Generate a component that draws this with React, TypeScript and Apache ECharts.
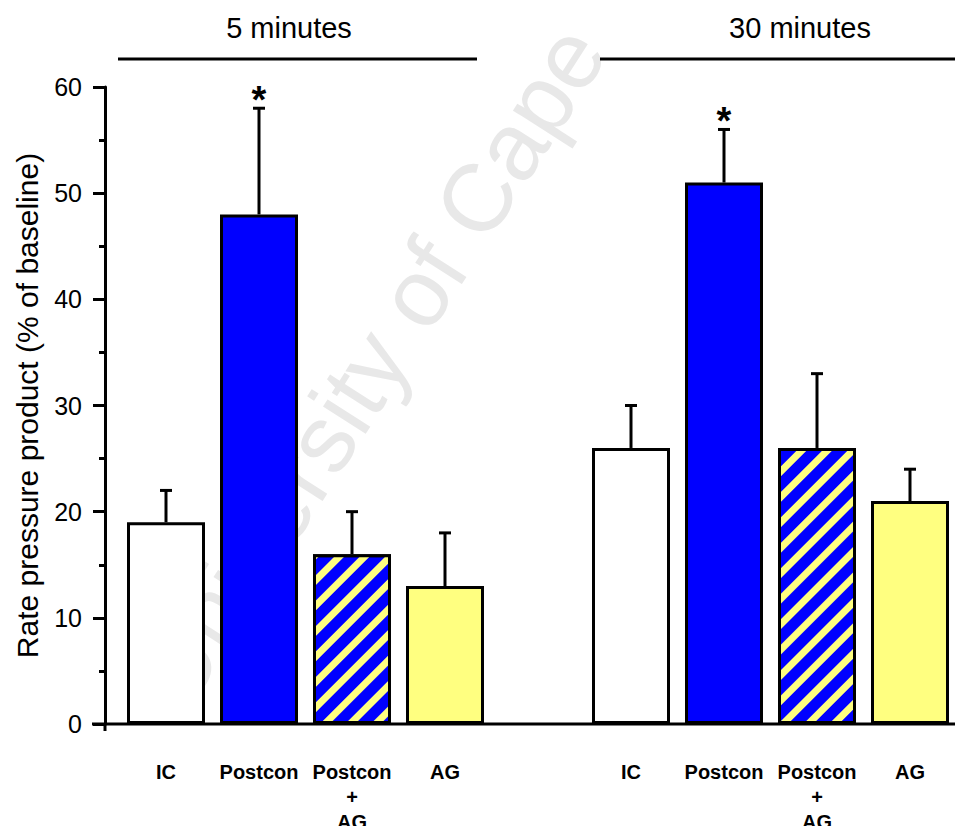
import React, { useEffect, useRef } from "react";
import * as echarts from "echarts";

const categories = ["IC", "Postcon", "Postcon\n+\nAG", "AG", "", "IC", "Postcon", "Postcon\n+\nAG", "AG"];
const kinds = ["control", "postcon", "combo", "ag", "gap", "control", "postcon", "combo", "ag"];
const means = [19, 48, 16, 13, 0, 26, 51, 26, 21];
const errors = [3, 10, 4, 5, 0, 4, 5, 7, 3];
const significant = [false, true, false, false, false, false, true, false, false];
const groupTitles = ["5 minutes", "30 minutes"];
const yTitle = "Rate pressure product (% of baseline)";
const yMin = 0;
const yMax = 60;
const yInterval = 10;
const watermark = "University of Cape";

const FONT = "Liberation Sans, Arial, sans-serif";
const BLUE = "#0000ff";
const YELLOW = "#ffff80";

function itemStyleFor(kind: string): any {
  const base = { borderColor: "#000", borderWidth: 3 };
  switch (kind) {
    case "control":
      return { ...base, color: "#ffffff" };
    case "postcon":
      return { ...base, color: BLUE };
    case "combo":
      return {
        ...base,
        color: BLUE,
        decal: {
          symbol: "rect",
          symbolSize: 1,
          color: YELLOW,
          dashArrayX: [1, 0],
          dashArrayY: [7, 11],
          rotation: -Math.PI / 4,
        },
      };
    case "ag":
      return { ...base, color: YELLOW };
    default:
      return { color: "rgba(0,0,0,0)", borderWidth: 0 };
  }
}

export default function App() {
  const ref = useRef<HTMLDivElement>(null);
  useEffect(() => {
    if (!ref.current) return;
    const chart = echarts.init(ref.current, null, { renderer: "svg" });
    const option: any = {
      animation: false,
      backgroundColor: "#ffffff",
      grid: { left: 119.5, right: 6.5, top: 87, bottom: 110, containLabel: false, outerBoundsMode: "none" },
      xAxis: {
        type: "category",
        data: categories,
        axisLine: { show: false },
        axisTick: { show: false },
        splitLine: { show: false },
        axisLabel: {
          interval: 0,
          fontSize: 20,
          fontWeight: "bold",
          color: "#000",
          margin: 35,
          lineHeight: 25,
          fontFamily: FONT,
        },
      },
      yAxis: {
        type: "value",
        min: yMin,
        max: yMax,
        interval: yInterval,
        offset: 14.5,
        axisLine: { show: true, lineStyle: { color: "#000", width: 3 } },
        axisTick: { show: true, length: 12, lineStyle: { color: "#000", width: 3 } },
        minorTick: { show: true, splitNumber: 2, length: 6, lineStyle: { color: "#000", width: 3 } },
        splitLine: { show: false },
        axisLabel: { fontSize: 25, color: "#000", margin: 23, fontFamily: FONT },
        name: yTitle,
        nameLocation: "middle",
        nameRotate: 90,
        nameGap: 63,
        nameTextStyle: { fontSize: 30, color: "#000", fontFamily: FONT },
      },
      graphic: [
        {
          type: "text",
          x: 370,
          y: 365,
          rotation: 1.0,
          z: -10,
          style: {
            text: watermark,
            fill: "#e8e8e8",
            font: `96px ${FONT}`,
            align: "center",
            verticalAlign: "middle",
          },
        },
        {
          type: "text",
          x: 289,
          y: 28,
          style: { text: groupTitles[0], fill: "#000", font: `29px ${FONT}`, align: "center", verticalAlign: "middle" },
        },
        {
          type: "text",
          x: 800,
          y: 28,
          style: { text: groupTitles[1], fill: "#000", font: `29px ${FONT}`, align: "center", verticalAlign: "middle" },
        },
        { type: "line", shape: { x1: 118, y1: 59, x2: 477, y2: 59 }, style: { stroke: "#000", lineWidth: 3 } },
        { type: "line", shape: { x1: 600, y1: 59, x2: 963, y2: 59 }, style: { stroke: "#000", lineWidth: 3 } },
        { type: "line", shape: { x1: 92, y1: 724, x2: 963, y2: 724 }, style: { stroke: "#000", lineWidth: 3 } },
        { type: "line", shape: { x1: 105, y1: 724, x2: 105, y2: 731 }, style: { stroke: "#000", lineWidth: 3 } },
      ],
      series: [
        {
          type: "bar",
          barWidth: 78,
          z: 2,
          data: means.map((v, i) => ({ value: v, itemStyle: itemStyleFor(kinds[i]) })),
        },
        {
          type: "custom",
          z: 5,
          data: means.map((v, i) => [i, v, errors[i], significant[i] ? 1 : 0]),
          renderItem: (params: any, api: any) => {
            const idx = api.value(0);
            const mean = api.value(1);
            const err = api.value(2);
            const sig = api.value(3);
            const children: any[] = [];
            const base = api.coord([idx, mean]);
            const top = api.coord([idx, mean + err]);
            if (err > 0) {
              children.push({
                type: "line",
                shape: { x1: base[0], y1: base[1], x2: top[0], y2: top[1] },
                style: { stroke: "#000", lineWidth: 3 },
              });
              children.push({
                type: "line",
                shape: { x1: top[0] - 6, y1: top[1], x2: top[0] + 6, y2: top[1] },
                style: { stroke: "#000", lineWidth: 3 },
              });
            }
            if (sig) {
              children.push({
                type: "text",
                x: top[0],
                y: top[1] - 8,
                style: {
                  text: "*",
                  fill: "#000",
                  font: `bold 38px ${FONT}`,
                  align: "center",
                  verticalAlign: "middle",
                },
              });
            }
            return { type: "group", children };
          },
        },
      ],
    };
    chart.setOption(option);
    return () => chart.dispose();
  }, []);
  return <div ref={ref} style={{ width: 963, height: 834, margin: -8 }} />;
}
